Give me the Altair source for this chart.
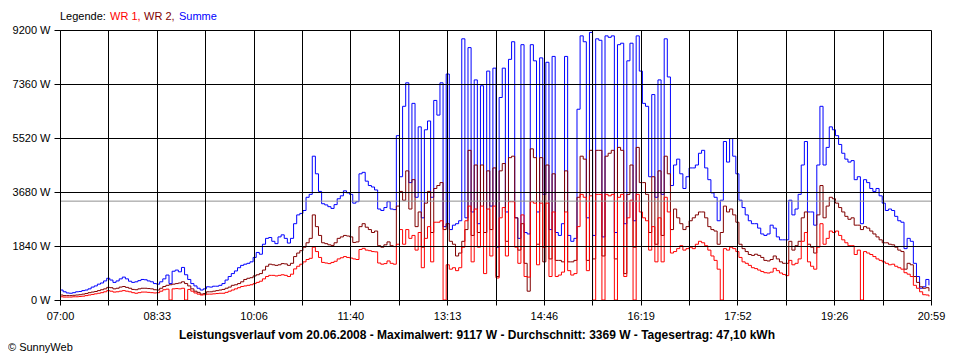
import altair as alt
import pandas as pd

# ---------------- data ----------------
STEP_MIN = 3          # one reading every 3 minutes, starting 07:00
SPAN_MIN = 839        # 07:00 .. 20:59

summe = [
    340, 280, 240, 230, 250, 280, 290, 320, 340, 380, 440, 480, 540, 580, 650, 740,
    680, 600, 650, 720, 780, 720, 640, 600, 620, 660, 700, 690, 650, 620, 560,
    540, 620, 720, 850, 560, 980, 1020, 960, 1110, 860, 700, 560, 480, 400, 340, 380,
    450, 440, 470, 470, 500, 560, 680, 800, 900, 990, 1100, 1180, 1220, 1250, 1300, 1450,
    1620, 1560, 1900, 2100, 2130, 2000, 1920, 2150, 2220, 2100, 1940, 2100, 2600, 2900, 2950,
    3050, 3500, 3600, 4900, 4300, 3700, 3280, 3240, 3180, 3120, 3250, 3450, 3550, 3720, 3650, 3600,
    3300, 3350, 4300, 4350, 4050, 3900, 3850, 3750, 3100, 3050, 3150, 3350, 3100, 3080, 5600,
    4200, 6600, 7400, 4000, 6700, 3500, 5900, 2800, 5800, 6100, 3500, 6800, 6300, 7400, 2500, 7700,
    2400, 2550, 2600, 2700, 8900, 2800, 8600, 3000, 7500, 2600, 7300, 2300, 7800, 3200, 7900,
    1800, 6900, 7900, 3000, 8200, 8800, 2800, 2100, 8700, 2300, 2250, 8700, 8150, 3000, 8250, 3600,
    8100, 2400, 8300, 2300, 2200, 2600, 8300, 2200, 2000, 2100, 6500, 9000, 8800, 2800, 9117,
    2200, 8900, 8850, 2150, 9000, 8950, 9000, 2300, 8700, 8750, 2600, 8150, 8750, 2700, 9000, 7800,
    6700, 6600, 4200, 7000, 3500, 7500, 3600, 8900, 7600, 3900, 4600, 4800, 4300, 3800, 4200,
    4500, 4500, 4600, 5000, 5100, 4500, 4100, 3650, 3500, 2700, 3400, 5400, 4700, 5500, 4900, 4300,
    3400, 3150, 2900, 2700, 2600, 2600, 2450, 2250, 2200, 2250, 2550, 2450, 2150, 2050, 2050, 2050,
    3400, 2900, 3100, 3600, 4600, 5400, 3000, 3000, 2550, 4600, 6600, 4600, 5200, 5900, 5800,
    5600, 5300, 5000, 4800, 4700, 4750, 4100, 4200, 2600, 4100, 4000, 3800, 3700, 3800, 3550, 3300,
    3050, 3100, 3050, 2850, 2700, 2650, 1750, 2100, 2000, 1250, 800, 400, 450, 700, 500,
]

wr2 = [
    170, 150, 150, 150, 160, 170, 180, 200, 220, 250, 270, 290, 320, 350, 380, 430,
    420, 380, 400, 440, 460, 430, 400, 360, 350, 380, 400, 400, 390, 380, 350,
    340, 400, 460, 500, 520, 540, 560, 580, 620, 560, 480, 380, 300, 260, 200, 220,
    280, 280, 300, 320, 340, 360, 400, 440, 500, 520, 560, 620, 700, 740, 760, 820,
    860, 900, 1020, 1150, 1220, 1200, 1180, 1200, 1240, 1230, 1180, 1250, 1480, 1600, 1680,
    1800, 1950, 2100, 2900, 2500, 2200, 1950, 1920, 1880, 1860, 1950, 2100, 2150, 2200, 2180, 2150,
    1960, 1980, 2500, 2600, 2480, 2400, 2300, 2350, 1850, 1800, 1880, 1980, 1850, 1820, 3200,
    3700, 3400, 4400, 3100, 4100, 2500, 3000, 1800, 3300, 3700, 2300, 3800, 3900, 4000, 2400, 2600,
    2000, 1900, 1500, 1600, 2000, 2400, 5100, 2200, 4600, 2300, 4600, 2300, 4400, 2400, 4500,
    800, 4400, 4650, 2000, 4850, 4900, 2800, 1700, 2600, 1250, 300, 5150, 4850, 1900, 4850, 1300,
    4600, 1400, 4300, 1350, 1350, 1300, 4400, 1300, 1300, 1350, 3500, 4900, 4800, 1350, 5100,
    1400, 5100, 5100, 1500, 4900, 5000, 5100, 1400, 5200, 5100, 900, 3600, 4600, 1800, 5200, 4000,
    4000, 3600, 2300, 4200, 1900, 4400, 2200, 4900, 4300, 2400, 3100, 2800, 2600, 2400, 2500,
    2700, 2800, 2900, 3000, 3000, 2800, 2500, 2400, 2350, 1900, 2300, 3200, 3000, 3100, 2900, 2650,
    1900, 1750, 1650, 1550, 1520, 1560, 1520, 1450, 1350, 1330, 1380, 1500, 1400, 1300, 1250, 1250,
    2000, 1700, 1850, 2000, 2800, 3000, 1900, 1800, 1600, 2900, 3900, 2800, 3200, 3500, 3450,
    3300, 3150, 3000, 2850, 2750, 2800, 2550, 2550, 2400, 2500, 2450, 2350, 2250, 2150, 2050, 1950,
    1950, 1900, 1880, 1800, 1700, 1650, 1050, 1250, 1200, 800, 600, 450, 400, 420, 300,
]

wr1 = [
    110, 100, 100, 100, 110, 110, 120, 130, 150, 170, 190, 210, 230, 250, 280, 320,
    300, 270, 280, 300, 320, 300, 280, 250, 230, 250, 270, 270, 260, 250, 240,
    250, 300, 350, 370, 0, 380, 390, 380, 400, 0, 360, 300, 240, 200, 170, 180,
    200, 200, 210, 220, 230, 230, 260, 300, 340, 380, 420, 460, 480, 500, 520, 560,
    600, 640, 720, 800, 840, 840, 820, 840, 860, 840, 800, 880, 1060, 1150, 1220,
    1300, 1380, 1420, 1800, 1650, 1450, 1280, 1260, 1240, 1280, 1320, 1400, 1440, 1480, 1450, 1430,
    1400, 1380, 1720, 1760, 1700, 1680, 1650, 1640, 1260, 1220, 1240, 1330, 1250, 1220, 1900,
    2400, 1900, 2400, 2100, 2200, 1700, 2300, 1100, 2100, 2500, 1300, 2650, 2650, 2700, 0, 1200,
    1050, 1100, 1000, 1100, 1800, 2700, 3200, 1300, 3100, 1800, 3200, 900, 3100, 1500, 3200,
    750, 2800, 3150, 1500, 3350, 3350, 1800, 1250, 2900, 800, 780, 3350, 3300, 1200, 3300, 1800,
    3300, 800, 3000, 800, 850, 950, 3000, 1000, 850, 900, 2500, 3600, 3500, 1000, 3550,
    0, 3600, 3600, 0, 3600, 3550, 3600, 0, 3500, 3600, 800, 2800, 3400, 0, 3600, 3000,
    2800, 2700, 1700, 2500, 1300, 2800, 1300, 3500, 3000, 1600, 1650, 1750, 1850, 1700, 1750,
    1800, 1750, 1900, 2000, 1950, 1850, 1700, 1500, 1350, 1050, 0, 1750, 1700, 1800, 1750, 1650,
    1450, 1300, 1250, 1180, 1100, 1070, 1020, 970, 930, 920, 950, 1080, 1000, 920, 870, 830,
    1350, 1200, 1250, 1400, 2000, 2300, 1300, 1150, 1050, 1800, 2600, 1900, 2100, 2350, 2300,
    2350, 2200, 2050, 1950, 1850, 1850, 1550, 1700, 0, 1650, 1600, 1550, 1480, 1400, 1350, 1300,
    1250, 1200, 1220, 1150, 1100, 1050, 930, 880, 800, 500, 400, 280, 180, 170, 120,
]

x_tick_labels = ["07:00", "08:33", "10:06", "11:40", "13:13",
                 "14:46", "16:19", "17:52", "19:26", "20:59"]
y_ticks = [0, 1840, 3680, 5520, 7360, 9200]
average_w = 3369

legend_parts = ["Legende:", "WR 1,", "WR 2,", "Summe"]
title_text = ("Leistungsverlauf vom 20.06.2008 - Maximalwert: 9117 W - "
              "Durchschnitt: 3369 W - Tagesertrag: 47,10 kWh")
credit_text = "\u00a9 SunnyWeb"

# ---------------- chart ----------------
FONT = "Liberation Sans"
C_SUM, C_WR2, C_WR1 = "#0000FF", "#800000", "#FF0000"

times = [i * STEP_MIN for i in range(len(summe))]
df = pd.DataFrame({"t": times, "summe": summe, "wr2": wr2, "wr1": wr1})

N_GRID = 18
grid_vals = [SPAN_MIN * k / N_GRID for k in range(N_GRID + 1)]
all_labels = []
for k in range(N_GRID + 1):
    all_labels.append(x_tick_labels[k // 2] if k % 2 == 0 else "")
label_js = "[" + ",".join("'" + s + "'" for s in all_labels) + "]"
x_label_expr = f"{label_js}[round(datum.value*{N_GRID}/{SPAN_MIN})]"

x_axis = alt.Axis(values=grid_vals, labelExpr=x_label_expr, title=None,
                  grid=True, gridColor="black", gridOpacity=1, gridWidth=1,
                  domainColor="black", tickColor="black", tickSize=5,
                  labelFont=FONT, labelFontSize=11, labelColor="black",
                  labelPadding=5, labelFlush=False, labelOverlap=False, zindex=1)
y_axis = alt.Axis(values=y_ticks, labelExpr="datum.value + ' W'", title=None,
                  grid=True, gridColor="black", gridOpacity=1, gridWidth=1,
                  domainColor="black", tickColor="black", tickSize=6,
                  labelFont=FONT, labelFontSize=11, labelColor="black",
                  labelPadding=4, labelOverlap=False, zindex=1)

x_scale = alt.Scale(domain=[0, SPAN_MIN], nice=False, zero=False)
y_scale = alt.Scale(domain=[0, 9200], nice=False)


def series(field, color):
    return alt.Chart(df).mark_line(color=color, strokeWidth=1,
                                   interpolate="step-after").encode(
        x=alt.X("t:Q", scale=x_scale, axis=x_axis),
        y=alt.Y(f"{field}:Q", scale=y_scale, axis=y_axis),
    )


one = pd.DataFrame({"a": [0]})
avg_rule = alt.Chart(pd.DataFrame({"avg": [average_w]})).mark_rule(
    color="#909090", strokeWidth=1).encode(
    y=alt.Y("avg:Q", scale=y_scale, axis=y_axis))

legend_x = [0, 50, 84, 119]
legend_colors = ["black", C_WR1, C_WR2, C_SUM]
texts = []
for txt, xx, col in zip(legend_parts, legend_x, legend_colors):
    texts.append(alt.Chart(one).mark_text(
        text=txt, align="left", baseline="middle", font=FONT, fontSize=11,
        color=col).encode(x=alt.value(xx), y=alt.value(-13)))

texts.append(alt.Chart(one).mark_text(
    text=title_text, align="center", baseline="middle", font=FONT,
    fontSize=12, fontWeight="bold", color="black").encode(
    x=alt.value(417), y=alt.value(305)))
texts.append(alt.Chart(one).mark_text(
    text=credit_text, align="left", baseline="middle", font=FONT,
    fontSize=11, color="black").encode(
    x=alt.value(-52), y=alt.value(318)))

chart = alt.layer(
    series("summe", C_SUM),
    series("wr2", C_WR2),
    series("wr1", C_WR1),
    avg_rule,
    *texts,
).properties(
    width=871, height=270,
    autosize=alt.AutoSizeParams(type="none"),
    padding={"left": 52, "top": 22, "right": 20, "bottom": 58},
).configure_view(stroke=None).configure(background="white")

chart.save("out.html", embed_options={"renderer": "svg", "actions": False})
